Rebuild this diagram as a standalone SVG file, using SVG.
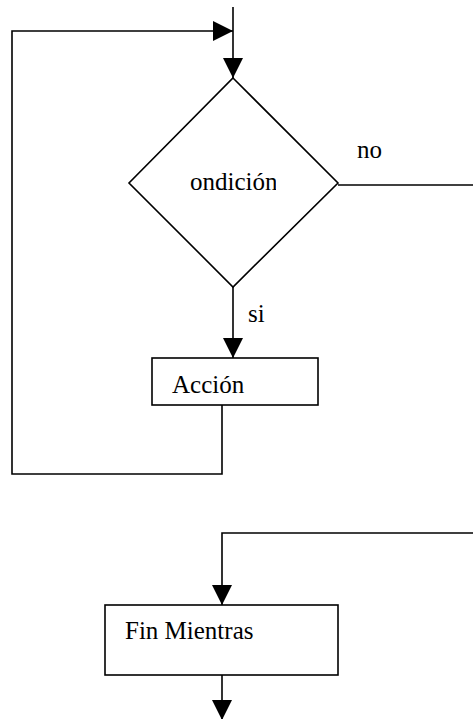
<svg xmlns="http://www.w3.org/2000/svg" width="473" height="719" viewBox="0 0 473 719">
<style>
.ln{fill:none;stroke:#000;stroke-width:1.6}
.box{fill:#fff;stroke:#000;stroke-width:1.6}
text{font-size:25px;fill:#000}
</style>
<defs>
<marker id="ah" markerUnits="userSpaceOnUse" markerWidth="20" markerHeight="20" refX="20" refY="10" orient="auto">
<path d="M0,0 L20,10 L0,20 z" fill="#000"/>
</marker>
<clipPath id="cc"><rect x="150" y="160" width="126" height="40"/></clipPath>
</defs>
<rect width="473" height="719" fill="#fff"/>
<g id="connectors" font-family="Liberation Serif, DejaVu Serif, serif">
<path class="ln" d="M233,7 V78" marker-end="url(#ah)"/>
<path class="ln" d="M222,405 V474 H12 V31 H233" marker-end="url(#ah)"/>
<path class="ln" d="M233,287 V358" marker-end="url(#ah)"/>
<path class="ln" d="M338,185 H473"/>
<path class="ln" d="M473,533 H222 V605" marker-end="url(#ah)"/>
<path class="ln" d="M222,675 V720" marker-end="url(#ah)"/>
<text x="357" y="158">no</text>
<text x="248" y="322">si</text>
</g>
<g id="condicion" font-family="Liberation Serif, DejaVu Serif, serif">
<path class="box" d="M233,78 L338,183 L233,287 L129,183 Z"/>
<text x="190" y="190" clip-path="url(#cc)">ondición</text>
</g>
<g id="accion" font-family="Liberation Serif, DejaVu Serif, serif">
<rect class="box" x="152" y="358" width="166" height="47"/>
<text x="172" y="393">Acción</text>
</g>
<g id="fin" font-family="Liberation Serif, DejaVu Serif, serif">
<rect class="box" x="105" y="605" width="233" height="70"/>
<text x="125" y="639">Fin Mientras</text>
</g>
</svg>
